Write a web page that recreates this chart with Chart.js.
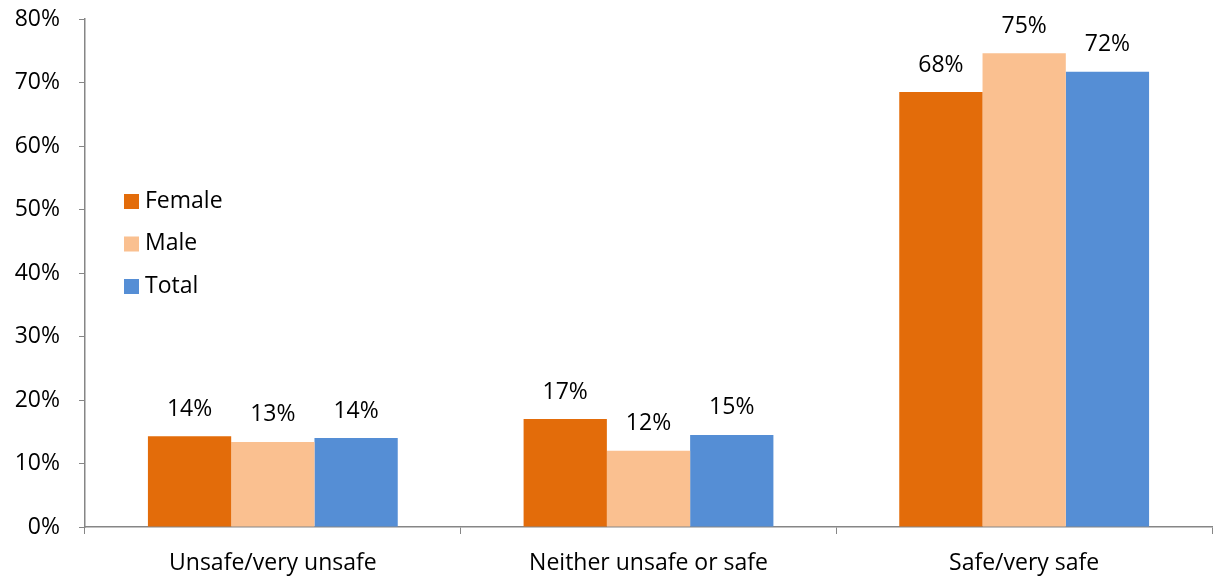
<!DOCTYPE html>
<html>
<head>
<meta charset="utf-8">
<script src="https://cdn.jsdelivr.net/npm/chart.js@4/dist/chart.umd.min.js"></script>
<style>
    html, body { margin: 0; padding: 0; background: #fff; }
    #wrap { width: 1213px; height: 576px; position: relative; }
</style>
</head>
<body>
<div id="wrap"><canvas id="chart"></canvas></div>
<script>
// Chart data
const categories = ['Unsafe/very unsafe', 'Neither unsafe or safe', 'Safe/very safe'];
const femaleValues = [14.3, 17.0, 68.5];
const maleValues = [13.4, 12.0, 74.6];
const totalValues = [14.0, 14.5, 71.7];
const femaleLabels = ['14%', '17%', '68%'];
const maleLabels = ['13%', '12%', '75%'];
const totalLabels = ['14%', '15%', '72%'];
const yTicks = [0, 10, 20, 30, 40, 50, 60, 70, 80];

const FONT = '"Open Sans", sans-serif';
const FONT_SIZE = 23;
const axisColor = '#868686';

// Value labels above each bar
const valueLabels = {
    id: 'valueLabels',
    afterDatasetsDraw(chart) {
        const ctx = chart.ctx;
        ctx.save();
        ctx.font = FONT_SIZE + 'px ' + FONT;
        ctx.fillStyle = '#000';
        ctx.textAlign = 'center';
        ctx.textBaseline = 'middle';
        chart.data.datasets.forEach((ds, i) => {
            chart.getDatasetMeta(i).data.forEach((bar, j) => {
                ctx.fillText(ds.valueLabels[j], bar.x, bar.y - 27);
            });
        });
        ctx.restore();
    }
};

// Legend inside the plot, on the left
const insideLegend = {
    id: 'insideLegend',
    afterDraw(chart) {
        const ctx = chart.ctx;
        ctx.save();
        ctx.font = FONT_SIZE + 'px ' + FONT;
        ctx.textBaseline = 'middle';
        ctx.textAlign = 'left';
        chart.data.datasets.forEach((ds, i) => {
            const y = 201 + i * 42.5;
            ctx.fillStyle = ds.backgroundColor;
            ctx.fillRect(124, y - 7, 15, 15);
            ctx.fillStyle = '#000';
            ctx.fillText(ds.label, 145, y);
        });
        ctx.restore();
    }
};

const ctx = document.getElementById('chart').getContext('2d');
new Chart(ctx, {
    type: 'bar',
    data: {
        labels: categories,
        datasets: [
            { label: 'Female', data: femaleValues, valueLabels: femaleLabels, backgroundColor: '#E36C0A' },
            { label: 'Male', data: maleValues, valueLabels: maleLabels, backgroundColor: '#FAC090' },
            { label: 'Total', data: totalValues, valueLabels: totalLabels, backgroundColor: '#558ED5' }
        ]
    },
    options: {
        responsive: true,
        maintainAspectRatio: false,
        animation: false,
        layout: { padding: { top: 19, right: 1, left: 0, bottom: 0 } },
        datasets: {
            bar: { categoryPercentage: 0.665, barPercentage: 1.0 }
        },
        plugins: {
            legend: { display: false },
            tooltip: { enabled: false }
        },
        scales: {
            x: {
                offset: true,
                grid: {
                    offset: true,
                    drawOnChartArea: false,
                    drawTicks: true,
                    tickLength: 7,
                    color: axisColor
                },
                border: { color: axisColor, width: 1.5 },
                ticks: {
                    color: '#000',
                    font: { family: FONT, size: FONT_SIZE },
                    padding: 16
                },
                afterFit(scale) {
                    scale.height = 49;
                    scale.paddingLeft = 0;
                    scale.paddingRight = 0;
                }
            },
            y: {
                min: 0,
                max: 80,
                afterBuildTicks(scale) {
                    scale.ticks = yTicks.map(v => ({ value: v }));
                },
                grid: {
                    drawOnChartArea: false,
                    drawTicks: true,
                    tickLength: 6,
                    color: axisColor
                },
                border: { color: axisColor, width: 1.5 },
                ticks: {
                    color: '#000',
                    font: { family: FONT, size: FONT_SIZE },
                    padding: 19,
                    callback: v => v + '%'
                },
                afterFit(scale) {
                    scale.width = 85;
                    scale.paddingTop = 0;
                    scale.paddingBottom = 0;
                }
            }
        }
    },
    plugins: [valueLabels, insideLegend]
});
</script>
</body>
</html>
